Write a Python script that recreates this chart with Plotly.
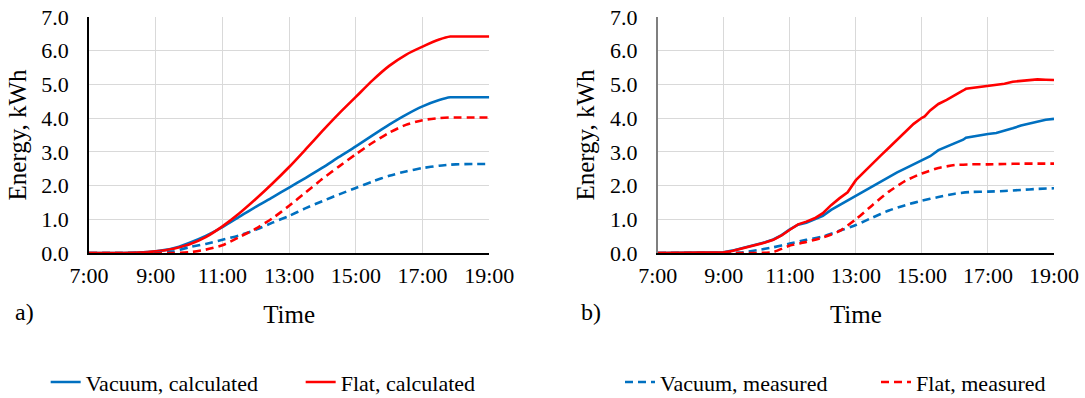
import plotly.graph_objects as go

# ---------------- data ----------------
time_a = ["07:00", "07:30", "08:00", "08:30", "09:00", "09:30", "10:00", "10:30",
          "11:00", "11:30", "12:00", "12:30", "13:00", "13:30", "14:00", "14:30",
          "15:00", "15:30", "16:00", "16:30", "17:00", "17:30", "17:50", "18:00",
          "18:30", "19:00"]
a_vacuum_calc = [0, 0, 0, 0.01, 0.05, 0.13, 0.30, 0.51, 0.77, 1.07, 1.37, 1.65, 1.94,
                 2.23, 2.53, 2.85, 3.16, 3.49, 3.81, 4.10, 4.35, 4.54, 4.62, 4.62, 4.62, 4.62]
a_flat_calc = [0, 0, 0, 0.01, 0.05, 0.12, 0.25, 0.47, 0.79, 1.17, 1.60, 2.06, 2.55,
               3.08, 3.62, 4.14, 4.63, 5.12, 5.55, 5.88, 6.12, 6.33, 6.42, 6.42, 6.42, 6.42]
a_vacuum_meas = [0, 0, 0, 0, 0, 0.04, 0.17, 0.27, 0.39, 0.52, 0.69, 0.90, 1.10,
                 1.33, 1.54, 1.74, 1.93, 2.12, 2.29, 2.42, 2.52, 2.59, 2.62, 2.63, 2.64, 2.64]
a_flat_meas = [0, 0, 0, 0, 0, 0, 0.02, 0.10, 0.23, 0.47, 0.72, 1.03, 1.40,
               1.80, 2.20, 2.57, 2.93, 3.27, 3.57, 3.80, 3.94, 4.00, 4.02, 4.02, 4.02, 4.02]

time_b = ["07:00", "08:00", "08:30", "08:45", "09:00", "09:15", "09:30", "09:45",
          "10:00", "10:15", "10:30", "10:45", "11:00", "11:15", "11:30", "11:45",
          "12:00", "12:15", "12:30", "12:45", "13:00", "13:15", "13:30", "13:45",
          "14:00", "14:15", "14:30", "14:45", "15:00", "15:05", "15:15", "15:30",
          "15:45", "16:00", "16:15", "16:20", "16:30", "16:45", "17:00", "17:15",
          "17:30", "17:45", "18:00", "18:15", "18:30", "18:45", "19:00"]
b_flat_calc = [0, 0, 0, 0.01, 0.02, 0.06, 0.12, 0.18, 0.25, 0.31, 0.39, 0.52, 0.69,
               0.85, 0.93, 1.03, 1.18, 1.42, 1.62, 1.80, 2.16, 2.41, 2.65, 2.89, 3.12,
               3.36, 3.59, 3.83, 4.01, 4.05, 4.23, 4.42, 4.54, 4.67, 4.82, 4.87, 4.89,
               4.91, 4.94, 4.98, 5.02, 5.08, 5.11, 5.13, 5.15, 5.14, 5.13]
b_vacuum_calc = [0, 0, 0, 0.01, 0.02, 0.07, 0.13, 0.19, 0.26, 0.32, 0.40, 0.53, 0.70,
                 0.84, 0.90, 0.99, 1.10, 1.28, 1.42, 1.55, 1.69, 1.83, 1.97, 2.12, 2.26,
                 2.39, 2.51, 2.63, 2.75, 2.78, 2.87, 3.05, 3.15, 3.24, 3.36, 3.42, 3.45,
                 3.49, 3.53, 3.56, 3.62, 3.70, 3.78, 3.84, 3.90, 3.95, 3.98]

time_bm = ["07:00", "08:00", "09:00", "09:30", "10:00", "10:30", "11:00", "11:30",
           "12:00", "12:30", "13:00", "13:30", "14:00", "14:30", "15:00", "15:30",
           "16:00", "16:30", "17:00", "17:30", "18:00", "18:30", "19:00"]
b_vacuum_meas = [0, 0, 0, 0.01, 0.08, 0.17, 0.28, 0.39, 0.49, 0.66, 0.83, 1.05, 1.26,
                 1.42, 1.55, 1.66, 1.76, 1.81, 1.82, 1.84, 1.87, 1.90, 1.92]
b_flat_meas = [0, 0, 0, 0, 0, 0.03, 0.22, 0.33, 0.46, 0.65, 1.00, 1.42, 1.82,
               2.14, 2.36, 2.52, 2.61, 2.63, 2.63, 2.64, 2.65, 2.65, 2.65]

x_tickvals = ["07:00", "09:00", "11:00", "13:00", "15:00", "17:00", "19:00"]
x_ticktext = ["7:00", "9:00", "11:00", "13:00", "15:00", "17:00", "19:00"]
y_tickvals = [0, 1, 2, 3, 4, 5, 6, 7]

names = ["Vacuum, calculated", "Flat, calculated", "Vacuum, measured", "Flat, measured"]
BLUE = "#0070C0"
RED = "#FF0000"


def hours(labels):
    return [int(s[:2]) + int(s[3:]) / 60 for s in labels]


FONT = "Liberation Serif, Times New Roman, serif"
FS = 22
FT = 25
W, H = 1085, 398
L, R, T, B = 89.3, 1053.7, 16.5, 253.3
PW, PH = R - L, B - T


def px(x):
    return (x - L) / PW


def py(y):
    return (B - y) / PH


DASH = "8px,5px"
LW = 2.6

fig = go.Figure()

# panel a
fig.add_trace(go.Scatter(x=hours(time_a), y=a_vacuum_calc, name=names[0], mode="lines",
                         line=dict(color=BLUE, width=LW, shape="spline", smoothing=0.6),
                         legend="legend", xaxis="x", yaxis="y"))
fig.add_trace(go.Scatter(x=hours(time_a), y=a_flat_calc, name=names[1], mode="lines",
                         line=dict(color=RED, width=LW, shape="spline", smoothing=0.6),
                         legend="legend", xaxis="x", yaxis="y"))
fig.add_trace(go.Scatter(x=hours(time_a), y=a_vacuum_meas, name=names[2], mode="lines",
                         line=dict(color=BLUE, width=LW, dash=DASH, shape="spline", smoothing=0.6),
                         legend="legend2", xaxis="x", yaxis="y"))
fig.add_trace(go.Scatter(x=hours(time_a), y=a_flat_meas, name=names[3], mode="lines",
                         line=dict(color=RED, width=LW, dash=DASH, shape="spline", smoothing=0.6),
                         legend="legend2", xaxis="x", yaxis="y"))

# panel b
fig.add_trace(go.Scatter(x=hours(time_bm), y=b_vacuum_meas, name=names[2], mode="lines",
                         line=dict(color=BLUE, width=LW, dash=DASH, shape="spline", smoothing=0.6),
                         showlegend=False, xaxis="x2", yaxis="y2"))
fig.add_trace(go.Scatter(x=hours(time_bm), y=b_flat_meas, name=names[3], mode="lines",
                         line=dict(color=RED, width=LW, dash=DASH, shape="spline", smoothing=0.6),
                         showlegend=False, xaxis="x2", yaxis="y2"))
fig.add_trace(go.Scatter(x=hours(time_b), y=b_vacuum_calc, name=names[0], mode="lines",
                         line=dict(color=BLUE, width=LW),
                         showlegend=False, xaxis="x2", yaxis="y2"))
fig.add_trace(go.Scatter(x=hours(time_b), y=b_flat_calc, name=names[1], mode="lines",
                         line=dict(color=RED, width=LW),
                         showlegend=False, xaxis="x2", yaxis="y2"))

tfont = dict(family=FONT, size=FS, color="#000")
titfont = dict(family=FONT, size=FT, color="#000")
xcommon = dict(range=[7, 19], tickvals=hours(x_tickvals), ticktext=x_ticktext,
               showgrid=True, gridcolor="#D9D9D9", gridwidth=1,
               showline=True, linecolor="#000000", linewidth=1.5,
               ticks="", zeroline=False, ticklabelstandoff=2, automargin=False,
               tickfont=tfont,
               title=dict(text="Time", font=titfont, standoff=18))
ycommon = dict(range=[0, 7], tickvals=y_tickvals, tickformat=".1f",
               showgrid=True, gridcolor="#D9D9D9", gridwidth=1,
               showline=True, linewidth=1.5, ticks="", zeroline=False,
               ticklabelstandoff=14, automargin=False,
               tickfont=tfont,
               title=dict(text="Energy, kWh", font=titfont, standoff=8))

fig.update_layout(
    width=W, height=H,
    margin=dict(l=L, r=W - R, t=T, b=H - B, autoexpand=False),
    paper_bgcolor="white", plot_bgcolor="white",
    font=tfont,
    hovermode=False,
    xaxis=dict(xcommon, domain=[0, px(489.3)], anchor="y"),
    yaxis=dict(ycommon, domain=[0, 1], anchor="x", linecolor="#000000"),
    xaxis2=dict(xcommon, domain=[px(657.7), 1], anchor="y2"),
    yaxis2=dict(ycommon, domain=[0, 1], anchor="x2", linecolor="#7F7F7F"),
    legend=dict(orientation="h", x=px(46), y=py(383), xanchor="left", yanchor="middle",
                font=tfont, entrywidth=210, entrywidthmode="pixels",
                bgcolor="rgba(0,0,0,0)"),
    legend2=dict(orientation="h", x=px(620), y=py(383), xanchor="left", yanchor="middle",
                 font=tfont, entrywidth=211, entrywidthmode="pixels",
                 bgcolor="rgba(0,0,0,0)"),
    annotations=[
        dict(text="a)", x=px(13), y=py(313), xref="paper", yref="paper", showarrow=False,
             xanchor="left", yanchor="middle", font=dict(family=FONT, size=24, color="#000")),
        dict(text="b)", x=px(579), y=py(313), xref="paper", yref="paper", showarrow=False,
             xanchor="left", yanchor="middle", font=dict(family=FONT, size=24, color="#000")),
    ],
)

fig.write_html("out.html", config={"displayModeBar": False},
               post_script="document.body.style.margin='0px';")
